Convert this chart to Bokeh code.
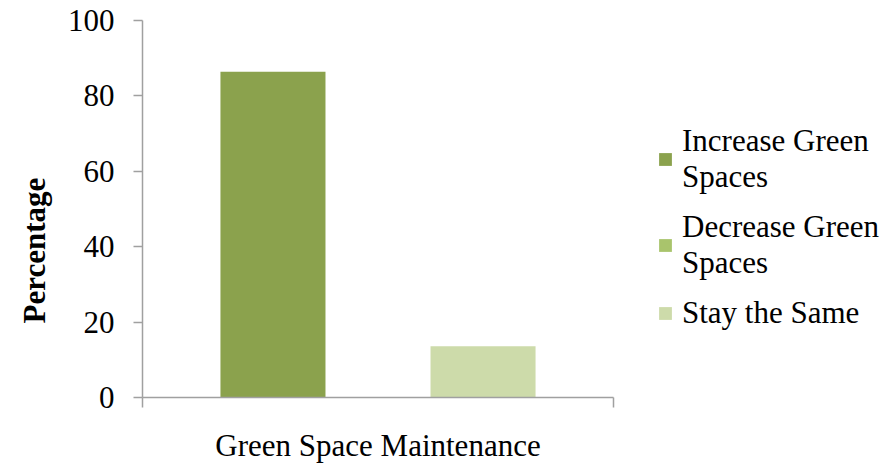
from bokeh.plotting import figure
from bokeh.models import (ColumnDataSource, Range1d, FixedTicker, Legend, LegendItem, Title)
from bokeh.transform import dodge
from bokeh.embed import file_html
from bokeh.resources import INLINE

categories = ["Green Space Maintenance"]
series_names = ["Increase Green\nSpaces", "Decrease Green\nSpaces", "Stay the Same"]
increase = [86.4]
decrease = [0.0]
stay_same = [13.6]
y_ticks = [0, 20, 40, 60, 80, 100]

colors = ["#8BA24D", "#A9C46C", "#CDDBAA"]
FONT = "Liberation Serif"
FS = "31px"
AXIS_COLOR = "#A0A0A0"

xpos = [i + 0.5 for i in range(len(categories))]
source = ColumnDataSource(dict(cat=categories, x=xpos, inc=increase, dec=decrease, same=stay_same))

p = figure(x_range=Range1d(0, len(categories)),
           y_range=Range1d(0, 100),
           width=888, height=464, frame_width=471, frame_height=377,
           min_border_left=142, min_border_top=20, min_border_bottom=67,
           output_backend="svg", toolbar_location=None)
p.outline_line_color = None
p.xgrid.grid_line_color = None
p.ygrid.grid_line_color = None
p.background_fill_color = "white"
p.border_fill_color = "white"

bw = 0.223
cols = ["inc", "dec", "same"]
offsets = [-bw, 0.0, bw]
renderers = []
for col, off, c in zip(cols, offsets, colors):
    r = p.vbar(x=dodge("x", off), top=col, width=bw,
               source=source, fill_color=c, line_color=None)
    renderers.append(r)

# y axis
ya = p.yaxis[0]
ya.ticker = FixedTicker(ticks=y_ticks)
ya.axis_line_color = AXIS_COLOR
ya.axis_line_width = 1.5
ya.major_tick_line_color = AXIS_COLOR
ya.major_tick_line_width = 1.5
ya.major_tick_out = 9
ya.major_tick_in = 0
ya.minor_tick_line_color = None
ya.major_label_text_font = FONT
ya.major_label_text_font_size = FS
ya.major_label_text_color = "black"
ya.major_label_standoff = 19

p.add_layout(Title(text="Percentage", text_font=FONT, text_font_size="31px",
                   text_font_style="bold", align="left", offset=66, padding=8,
                   vertical_align="bottom", text_color="black"), "left")

# x axis with ticks at category boundaries
xa = p.xaxis[0]
bounds = list(range(len(categories) + 1))
xa.ticker = FixedTicker(ticks=bounds)
xa.major_label_overrides = {b: "" for b in bounds}
xa.axis_line_color = AXIS_COLOR
xa.axis_line_width = 1.5
xa.major_tick_line_color = AXIS_COLOR
xa.major_tick_line_width = 1.5
xa.major_tick_out = 10
xa.major_tick_in = 0
xa.minor_tick_line_color = None
xa.axis_label = categories[0]
xa.axis_label_text_font = FONT
xa.axis_label_text_font_size = FS
xa.axis_label_text_font_style = "normal"
xa.axis_label_text_color = "black"
xa.axis_label_standoff = 20

legend = Legend(items=[LegendItem(label=n, renderers=[r]) for n, r in zip(series_names, renderers)],
                location=(44, 66), orientation="vertical")
legend.label_text_font = FONT
legend.label_text_font_size = FS
legend.label_text_color = "black"
legend.glyph_width = 16
legend.glyph_height = 16
legend.label_standoff = 9
legend.spacing = 14
legend.padding = 0
legend.margin = 0
legend.border_line_color = None
legend.background_fill_alpha = 0
p.add_layout(legend, "right")

open("out.html", "w").write(file_html(p, INLINE))
